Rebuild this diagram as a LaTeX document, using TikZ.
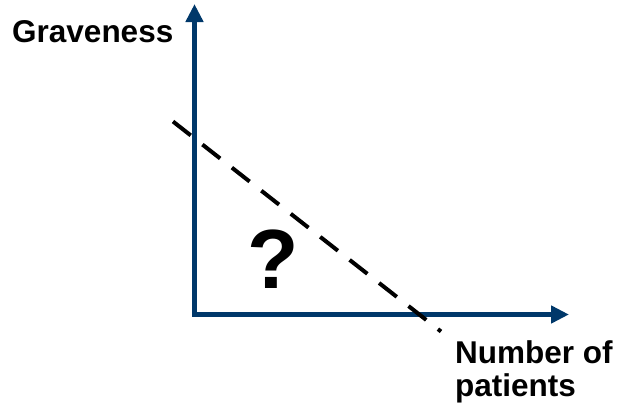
\documentclass[tikz,border=0pt]{standalone}
\usepackage{fontspec}
\setmainfont{Liberation Sans}
\usetikzlibrary{arrows.meta, positioning}
\definecolor{axisblue}{RGB}{0, 56, 106}
\tikzset{
  axis/.style={draw=axisblue, line width=5.5pt, -{Triangle[length=18pt, width=17pt]}},
  guess/.style={draw=black, line width=4pt, dash pattern=on 22.5pt off 14.9pt},
  axislabel/.style={inner sep=0pt, font=\fontsize{31.5}{33}\selectfont\bfseries, align=left},
  qmarkstyle/.style={inner sep=0pt, font=\fontsize{84}{84}\selectfont\bfseries}
}
\begin{document}
\begin{tikzpicture}[x=1pt, y=-1pt]
\useasboundingbox (0,0) rectangle (621,405);
\coordinate (origin) at (194.5,314.5);
\coordinate (ytip)   at (194.5,4);
\coordinate (xtip)   at (569,314.5);
\coordinate (gstart) at (173,121.5);
\coordinate (gend)   at (441,331.5);

\node (ylabel) [axislabel, anchor=base west] at (12,42) {Graveness};
\node (xlabel) [axislabel, anchor=base west] at (455,396) {Number of\\patients};
\node (qmark)  [qmarkstyle, anchor=base] at (273,288) {?};

\draw[axis] ([yshift=2.75pt]origin) -- (ytip);
\draw[axis] ([xshift=-2.75pt]origin) -- (xtip);
\draw[guess] (gstart) -- (gend);
\end{tikzpicture}
\end{document}
